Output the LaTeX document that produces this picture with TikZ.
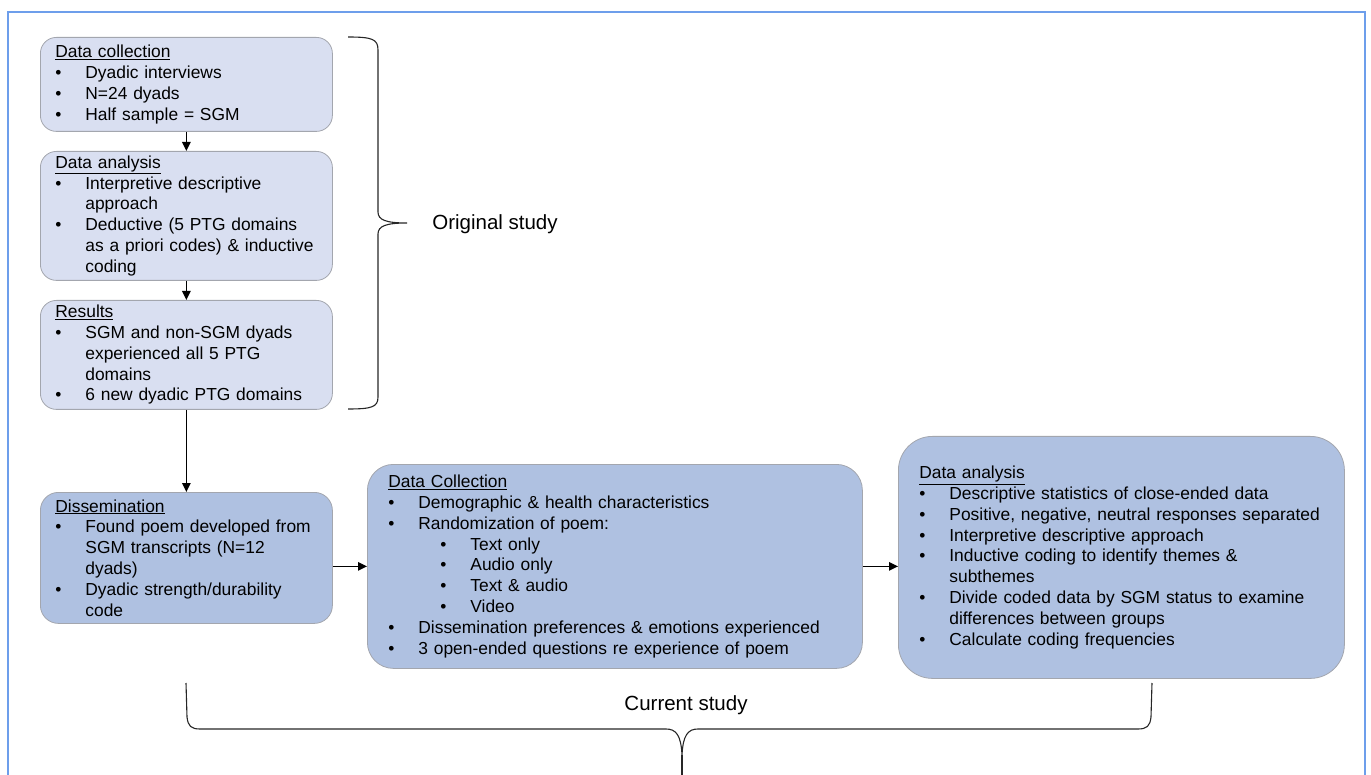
\documentclass[tikz,border=0pt]{standalone}
\usepackage{fontspec}
\setmainfont{Liberation Sans}
\usetikzlibrary{arrows.meta}

\definecolor{paleblue}{HTML}{D9DFF1}
\definecolor{midblue}{HTML}{AFC1E1}
\definecolor{boxedge}{HTML}{A3A6AE}
\definecolor{frameblue}{HTML}{6D9EEB}

\newcommand{\blt}{\makebox[30pt][l]{\textbullet}}
\newcommand{\cont}{\hspace*{30pt}}
\newcommand{\subblt}{\hspace*{52pt}\makebox[30pt][l]{\textbullet}}

\tikzset{
  stagebox/.style={draw=boxedge, line width=0.8pt, align=left, anchor=north west,
    inner xsep=15pt, inner ysep=0pt, font=\fontsize{17.4}{20.8}\selectfont},
  flow/.style={-{Triangle[length=9pt,width=8.5pt]}, line width=1.2pt},
  bracket/.style={line width=1.1pt, draw=black!85},
  studylabel/.style={font=\fontsize{20.5}{24}\selectfont},
}

\begin{document}
\begin{tikzpicture}[x=1pt, y=-1pt]
    \useasboundingbox (0,0) rectangle (1371,775);
    \draw[frameblue, line width=1.5pt] (8,775) -- (8,12) -- (1365,12) -- (1365,775);

    % --- Original study ---
    \node[stagebox, fill=paleblue, rounded corners=16pt, text width=262pt, minimum height=94pt] (origcoll) at (40,37)
        {\underline{Data collection}\\
         \blt Dyadic interviews\\
         \blt N=24 dyads\\
         \blt Half sample = SGM};
    \node[stagebox, fill=paleblue, rounded corners=16pt, text width=262pt, minimum height=129pt] (origanal) at (40,151)
        {\underline{Data analysis}\\
         \blt Interpretive descriptive\\
         \cont approach\\
         \blt Deductive (5 PTG domains\\
         \cont as a priori codes) \& inductive\\
         \cont coding};
    \node[stagebox, fill=paleblue, rounded corners=16pt, text width=262pt, minimum height=109pt] (origres) at (40,300)
        {\underline{Results}\\
         \blt SGM and non-SGM dyads\\
         \cont experienced all 5 PTG\\
         \cont domains\\
         \blt 6 new dyadic PTG domains};

    % --- Current study ---
    \node[stagebox, fill=midblue, rounded corners=18pt, text width=262pt, minimum height=131pt] (dissem) at (40,492)
        {\underline{Dissemination}\\
         \blt Found poem developed from\\
         \cont SGM transcripts (N=12\\
         \cont dyads)\\
         \blt Dyadic strength/durability\\
         \cont code};
    \node[stagebox, fill=midblue, rounded corners=26pt, inner xsep=21pt, text width=453pt, minimum height=204pt] (curcoll) at (367,464)
        {\underline{Data Collection}\\
         \blt Demographic \& health characteristics\\
         \blt Randomization of poem:\\
         \subblt Text only\\
         \subblt Audio only\\
         \subblt Text \& audio\\
         \subblt Video\\
         \blt Dissemination preferences \& emotions experienced\\
         \blt 3 open-ended questions re experience of poem};
    \node[stagebox, fill=midblue, rounded corners=34pt, inner xsep=21pt, text width=404pt, minimum height=242pt] (curanal) at (898,436)
        {\underline{Data analysis}\\
         \blt Descriptive statistics of close-ended data\\
         \blt Positive, negative, neutral responses separated\\
         \blt Interpretive descriptive approach\\
         \blt Inductive coding to identify themes \&\\
         \cont subthemes\\
         \blt Divide coded data by SGM status to examine\\
         \cont differences between groups\\
         \blt Calculate coding frequencies};

    \draw[flow] (origcoll.south) -- (origanal.north);
    \draw[flow] (origanal.south) -- (origres.north);
    \draw[flow] (origres.south) -- (dissem.north);
    \draw[flow] (dissem.east |- curcoll.west) -- (curcoll.west);
    \draw[flow] (curcoll.east) -- (curanal.west |- curcoll.east);

    % --- braces and labels ---
    \draw[bracket] (348,37) .. controls (372,37) and (378,39) .. (378,50) -- (378,212)
        .. controls (378,220) and (386,223) .. (407,223)
        .. controls (386,223) and (378,226) .. (378,234) -- (378,397)
        .. controls (378,407) and (372,409) .. (348,409);
    \node[studylabel] (origlabel) at (495,224) {Original study};

    \draw[bracket] (186,683) -- (187,717) .. controls (188,726) and (191,729) .. (200,729) -- (666,729)
        .. controls (676,729) and (681,735) .. (682,755)
        .. controls (683,735) and (688,729) .. (698,729) -- (1138,729)
        .. controls (1147,729) and (1150,726) .. (1151,717) -- (1152,683);
    \draw[bracket] (682,755) -- (682,775);
    \node[studylabel] (curlabel) at (686,705) {Current study};
\end{tikzpicture}
\end{document}
